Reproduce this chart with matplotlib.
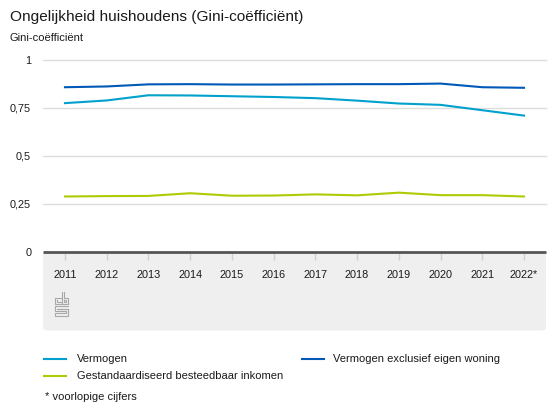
import matplotlib
matplotlib.use("Agg")
import matplotlib.pyplot as plt
from matplotlib.patches import FancyBboxPatch
from matplotlib.lines import Line2D

plt.rcParams["font.family"] = ["Liberation Sans", "DejaVu Sans"]

# ---- data ----
years = ["2011", "2012", "2013", "2014", "2015", "2016",
         "2017", "2018", "2019", "2020", "2021", "2022*"]
vermogen = [0.775, 0.789, 0.816, 0.815, 0.811, 0.807,
            0.801, 0.788, 0.773, 0.766, 0.738, 0.710]
vermogen_excl = [0.858, 0.862, 0.873, 0.874, 0.872, 0.872,
                 0.873, 0.874, 0.874, 0.877, 0.858, 0.855]
inkomen = [0.288, 0.290, 0.291, 0.305, 0.292, 0.293,
           0.299, 0.294, 0.308, 0.295, 0.295, 0.288]
yticks = [0, 0.25, 0.5, 0.75, 1]
ytick_labels = ["0", "0,25", "0,5", "0,75", "1"]

C_VERM = "#00a1cd"
C_EXCL = "#0058b8"
C_INK = "#afcb05"
TXT = "#1a1a1a"

W, H = 555, 416
fig = plt.figure(figsize=(W / 100, H / 100), dpi=100)

def fx(px):
    return px / W

def fy(py):
    return 1 - py / H

# grey panel under the x axis
panel = FancyBboxPatch((fx(43), fy(330.5)), fx(546) - fx(43), fy(252) - fy(330.5),
                       boxstyle="round,pad=0,rounding_size=0.008",
                       transform=fig.transFigure, facecolor="#efefef",
                       edgecolor="none", zorder=0)
fig.patches.append(panel)

ax = fig.add_axes([fx(43), fy(251.7), fx(546) - fx(43), fy(60) - fy(251.7)])
ax.set_zorder(2)
ax.set_facecolor("none")
x = list(range(len(years)))
ax.plot(x, vermogen, color=C_VERM, lw=1.5, zorder=3)
ax.plot(x, inkomen, color=C_INK, lw=1.5, zorder=3)
ax.plot(x, vermogen_excl, color=C_EXCL, lw=1.5, zorder=3)

ax.set_xlim(-0.527, 11.527)
ax.set_ylim(0, 1)
ax.set_yticks(yticks)
ax.set_yticklabels(ytick_labels)
ax.set_xticks(x)
ax.set_xticklabels(years)
for v in yticks[1:]:
    ax.axhline(v, color="#dddddd", lw=1, zorder=1, clip_on=False)
ax.axhline(0, color="#555555", lw=2, zorder=4, clip_on=False,
           solid_capstyle="butt")
for s in ax.spines.values():
    s.set_visible(False)
ax.tick_params(axis="y", length=0, pad=8.5, labelsize=7.8, labelcolor=TXT)
ax.tick_params(axis="x", length=6, width=1, color="#cfcfcf", pad=7.5,
               labelsize=7.8, labelcolor=TXT)
for lbl in ax.get_yticklabels():
    lbl.set_horizontalalignment("right")

# titles
fig.text(fx(10), fy(16.7), "Ongelijkheid huishoudens (Gini-coëfficiënt)",
         fontsize=11.1, color=TXT, va="center", ha="left")
fig.text(fx(10), fy(38.3), "Gini-coëfficiënt", fontsize=8, color=TXT,
         va="center", ha="left")

# cbs logo, drawn roughly as outlines
logo_col = "#a8a8a8"
def seg(xs, ys):
    fig.add_artist(Line2D([fx(v) for v in xs], [fy(v) for v in ys],
                          transform=fig.transFigure, color=logo_col, lw=0.8))
seg([61, 55, 55, 61], [298, 298, 304, 304])           # c
seg([57, 57, 61], [300, 302, 302])
seg([62, 62, 68, 68, 64, 64], [292, 304, 304, 298, 298, 292])  # b
seg([64, 64, 66, 66, 64], [300, 302, 302, 300, 300])
seg([68, 55, 55, 66, 66, 55, 55, 68, 68, 57, 57, 68],
    [306, 306, 311, 311, 313, 313, 316, 316, 308.5, 308.5, 309, 309])

# legend
def legend_item(x0, x1, y0, color, text):
    fig.add_artist(Line2D([fx(x0), fx(x0 + 22)], [fy(y0), fy(y0)],
                          transform=fig.transFigure, color=color, lw=1.5))
    fig.text(fx(x1), fy(y0), text, fontsize=8, color=TXT,
             va="center", ha="left")

legend_item(44, 77, 359, C_VERM, "Vermogen")
legend_item(302, 333, 359, C_EXCL, "Vermogen exclusief eigen woning")
legend_item(44, 77, 376, C_INK, "Gestandaardiseerd besteedbaar inkomen")
fig.text(fx(45), fy(397), "* voorlopige cijfers", fontsize=8, color=TXT,
         va="center", ha="left")

fig.savefig("out.png", dpi=100)
